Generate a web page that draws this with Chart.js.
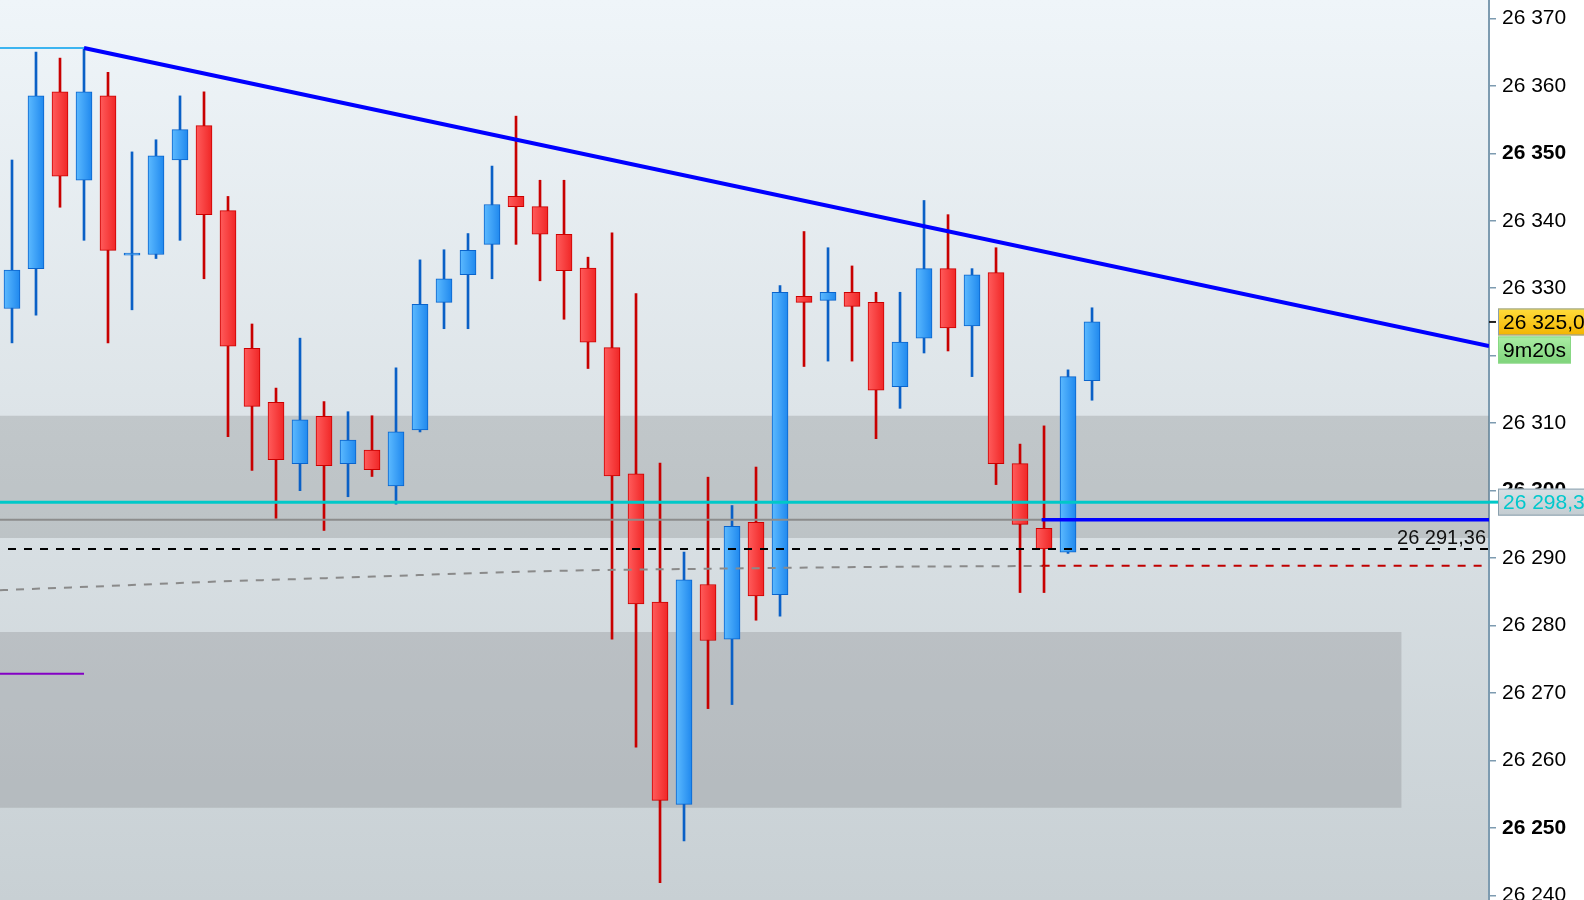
<!DOCTYPE html>
<html>
<head>
<meta charset="utf-8">
<title>Bougies</title>
<script src="https://cdn.jsdelivr.net/npm/chart.js@4.4.1/dist/chart.umd.min.js"></script>
<style>
  html, body { margin: 0; padding: 0; background: #fff; overflow: hidden; }
  canvas { display: block; }
</style>
</head>
<body>
<canvas id="chart" width="1584" height="900"></canvas>
<script>
// OHLC, one entry per candle
const opens = [26327.0, 26332.9, 26359.1, 26346.0, 26358.5, 26334.9, 26335.0, 26349.0, 26354.1, 26341.5,
  26321.1, 26313.1, 26304.0, 26311.0, 26304.0, 26306.0, 26300.7, 26309.0, 26327.9, 26332.0,
  26336.5, 26343.6, 26342.1, 26338.0, 26333.0, 26321.2, 26302.5, 26283.5, 26253.5, 26286.1,
  26278.0, 26295.3, 26284.6, 26328.8, 26328.2, 26329.4, 26327.9, 26315.4, 26322.6, 26332.9,
  26324.4, 26332.3, 26304.0, 26294.4, 26290.9, 26316.3];
const highs = [26349.0, 26365.0, 26364.1, 26365.6, 26362.0, 26350.2, 26352.0, 26358.5, 26359.1, 26343.6,
  26324.7, 26315.2, 26322.6, 26313.2, 26311.7, 26311.1, 26318.2, 26334.2, 26335.7, 26338.1,
  26348.1, 26355.5, 26346.0, 26346.0, 26334.6, 26338.2, 26329.2, 26304.1, 26290.9, 26302.0,
  26297.8, 26303.5, 26330.4, 26338.4, 26336.0, 26333.3, 26329.4, 26329.4, 26343.0, 26340.9,
  26332.9, 26336.0, 26306.9, 26309.6, 26317.9, 26327.1];
const lows = [26321.9, 26326.0, 26342.0, 26337.1, 26321.9, 26326.8, 26334.4, 26337.1, 26331.4, 26308.0,
  26303.0, 26295.9, 26300.0, 26294.1, 26299.1, 26302.1, 26298.0, 26308.7, 26324.0, 26324.0,
  26331.4, 26336.5, 26331.1, 26325.4, 26318.1, 26278.0, 26262.0, 26241.9, 26248.1, 26267.7,
  26268.3, 26280.8, 26281.4, 26318.4, 26319.2, 26319.2, 26307.7, 26312.2, 26320.4, 26320.7,
  26316.9, 26300.9, 26284.9, 26284.9, 26290.7, 26313.4];
const closes = [26332.7, 26358.5, 26346.6, 26359.1, 26335.6, 26335.0, 26349.6, 26353.5, 26340.9, 26321.4,
  26312.5, 26304.6, 26310.5, 26303.7, 26307.5, 26303.1, 26308.7, 26327.6, 26331.4, 26335.6,
  26342.4, 26342.1, 26338.0, 26332.6, 26322.0, 26302.2, 26283.2, 26254.1, 26286.8, 26277.8,
  26294.7, 26284.4, 26329.4, 26327.9, 26329.4, 26327.3, 26314.9, 26322.0, 26332.9, 26324.1,
  26332.0, 26304.0, 26295.0, 26291.36, 26316.9, 26325.0];

const yTicks = [26240, 26250, 26260, 26270, 26280, 26290, 26300, 26310, 26320, 26330, 26340, 26350, 26360, 26370];

// moving average (read at a few candles)
const maIndex = [-0.5, 0, 4, 8, 12, 16, 22, 31, 37, 43];
const maValues = [26285.23, 26285.32, 26285.87, 26286.46, 26286.91, 26287.38, 26288.06, 26288.51, 26288.73, 26288.84];

// levels
const trendIndex = [3, 61.54];
const trendValues = [26365.6, 26321.44];
const topLevel = 26365.6;
const purpleLevel = 26272.87;
const cyanLevel = 26298.3;
const grayLevel = 26295.7;
const dashedLevel = 26291.36;
const redLevel = 26288.88;
const zoneUpper = [26311.1, 26293.0];
const zoneLower = [26279.05, 26253.0];
const zoneLowerEnd = 57.9;
const levelStart = 42.9;
const timerText = '9m20s';

const X_MIN = -0.5, X_MAX = 61.54;
const FONT = '"Liberation Sans", Arial, Helvetica, sans-serif';

const isUp = (i) => closes[i] >= opens[i];
const fmt = (v) => {
    const s = String(Math.round(v));
    return s.slice(0, -3) + ' ' + s.slice(-3);
};
const fmtDec = (v, d) => {
    const parts = v.toFixed(d).split('.');
    return fmt(+parts[0]) + ',' + parts[1];
};

function bodyFill(c) {
    const up = isUp(c.dataIndex);
    const chart = c.chart;
    if (!chart.chartArea || !chart.scales.x) return up ? '#3aa6f8' : '#fa3c3c';
    const x = chart.scales.x.getPixelForValue(c.dataIndex);
    const g = chart.ctx.createLinearGradient(x - 8, 0, x + 8, 0);
    if (up) {
        g.addColorStop(0, '#5cbaff');
        g.addColorStop(1, '#1f88ee');
    } else {
        g.addColorStop(0, '#ff5c5c');
        g.addColorStop(1, '#f02626');
    }
    return g;
}

function hLine(y, from, to) {
    return [{ x: from, y: y }, { x: to, y: y }];
}

const backdrop = {
    id: 'backdrop',
    beforeDraw(chart) {
        const { ctx, chartArea: a } = chart;
        const g = ctx.createLinearGradient(0, a.top, 0, a.bottom);
        g.addColorStop(0, '#eff5f9');
        g.addColorStop(1, '#c8d0d4');
        ctx.save();
        ctx.fillStyle = g;
        ctx.fillRect(a.left, a.top, a.right - a.left, a.bottom - a.top);
        ctx.restore();
    },
};

function tag(ctx, x, yc, w, text, top, bottom, border, color) {
    const h = 27;
    const g = ctx.createLinearGradient(0, yc - h / 2, 0, yc + h / 2);
    g.addColorStop(0, top);
    g.addColorStop(1, bottom);
    ctx.fillStyle = g;
    ctx.fillRect(x, yc - h / 2, w, h);
    ctx.strokeStyle = border;
    ctx.lineWidth = 1;
    ctx.strokeRect(x + 0.5, yc - h / 2 + 0.5, w - 1, h - 1);
    ctx.fillStyle = color;
    ctx.font = '21px ' + FONT;
    ctx.textAlign = 'left';
    ctx.textBaseline = 'middle';
    ctx.fillText(text, x + 5, yc + 1);
}

const overlay = {
    id: 'overlay',
    afterDraw(chart) {
        const { ctx, chartArea: a } = chart;
        const y = chart.scales.y;
        const last = closes[closes.length - 1];
        const boxX = a.right + 9;
        ctx.save();

        // label over the dashed level
        ctx.fillStyle = '#111';
        ctx.font = '20px ' + FONT;
        ctx.textAlign = 'right';
        ctx.textBaseline = 'alphabetic';
        ctx.fillText(fmtDec(dashedLevel, 2), a.right - 3, y.getPixelForValue(dashedLevel) - 5);

        // cyan level runs out to its tag
        const yc = y.getPixelForValue(cyanLevel);
        ctx.strokeStyle = '#00c8c8';
        ctx.lineWidth = 3;
        ctx.beginPath();
        ctx.moveTo(a.right, yc);
        ctx.lineTo(boxX, yc);
        ctx.stroke();

        const yp = y.getPixelForValue(last);
        ctx.strokeStyle = '#222';
        ctx.lineWidth = 2;
        ctx.beginPath();
        ctx.moveTo(a.right, yp);
        ctx.lineTo(a.right + 7, yp);
        ctx.stroke();

        tag(ctx, boxX, yp, 120, fmtDec(last, 1), '#ffdc3c', '#f3b400', '#8aa0ae', '#000');
        tag(ctx, boxX, yp + 28, 73, timerText, '#aaeea4', '#7ed37a', '#88d884', '#000');
        tag(ctx, boxX, yc, 120, fmtDec(cyanLevel, 1), '#d9e0e4', '#c3ccd1', '#8aa0ae', '#00c8cc');
        ctx.restore();
    },
};

const lineBase = { type: 'line', pointRadius: 0, fill: false, tension: 0 };

new Chart(document.getElementById('chart'), {
    type: 'bar',
    data: {
        datasets: [
            Object.assign({}, lineBase, {
                label: 'zone haute',
                data: hLine(zoneUpper[0], X_MIN, X_MAX),
                fill: { value: zoneUpper[1] },
                backgroundColor: 'rgba(112,114,116,0.26)',
                borderWidth: 0,
                order: 20,
            }),
            Object.assign({}, lineBase, {
                label: 'zone basse',
                data: hLine(zoneLower[0], X_MIN, zoneLowerEnd),
                fill: { value: zoneLower[1] },
                backgroundColor: 'rgba(110,112,115,0.25)',
                borderWidth: 0,
                order: 20,
            }),
            {
                label: 'mèches',
                data: lows.map((l, i) => ({ x: i, y: [l, highs[i]] })),
                backgroundColor: (c) => (isUp(c.dataIndex) ? '#0a60c6' : '#c80000'),
                borderWidth: 0,
                barThickness: 2,
                grouped: false,
                order: 12,
            },
            {
                label: 'corps',
                data: opens.map((o, i) => ({ x: i, y: [o, closes[i]] })),
                backgroundColor: bodyFill,
                borderColor: (c) => (isUp(c.dataIndex) ? '#0a64cc' : '#cc0000'),
                borderWidth: 1,
                borderSkipped: false,
                barThickness: 16,
                minBarLength: 2,
                grouped: false,
                order: 11,
            },
            Object.assign({}, lineBase, {
                label: 'moyenne',
                data: maIndex.map((x, i) => ({ x: x, y: maValues[i] })),
                borderColor: '#8a8a8a',
                borderWidth: 2,
                borderDash: [8, 8],
                cubicInterpolationMode: 'monotone',
                order: 9,
            }),
            Object.assign({}, lineBase, {
                label: 'niveau',
                data: hLine(dashedLevel, X_MIN, X_MAX),
                borderColor: '#000',
                borderWidth: 2,
                borderDash: [8, 8],
                borderDashOffset: 8,
                order: 8,
            }),
            Object.assign({}, lineBase, {
                label: 'moyenne courante',
                data: hLine(redLevel, levelStart, 61.25),
                borderColor: '#c00000',
                borderWidth: 2,
                borderDash: [8, 8],
                order: 8,
            }),
            Object.assign({}, lineBase, {
                label: 'gris',
                data: hLine(grayLevel, X_MIN, X_MAX),
                borderColor: '#8c8c8c',
                borderWidth: 2,
                order: 7,
            }),
            Object.assign({}, lineBase, {
                label: 'support',
                data: hLine(grayLevel, levelStart, X_MAX),
                borderColor: '#0000ff',
                borderWidth: 3.5,
                order: 6,
            }),
            Object.assign({}, lineBase, {
                label: 'cyan',
                data: hLine(cyanLevel, X_MIN, X_MAX),
                borderColor: '#00c8c8',
                borderWidth: 3,
                order: 5,
            }),
            Object.assign({}, lineBase, {
                label: 'violet',
                data: hLine(purpleLevel, X_MIN, trendIndex[0]),
                borderColor: '#8400c4',
                borderWidth: 2,
                order: 5,
            }),
            Object.assign({}, lineBase, {
                label: 'plus haut',
                data: hLine(topLevel, X_MIN, trendIndex[0]),
                borderColor: '#3cb4f0',
                borderWidth: 2,
                order: 5,
            }),
            Object.assign({}, lineBase, {
                label: 'oblique',
                data: trendIndex.map((x, i) => ({ x: x, y: trendValues[i] })),
                borderColor: '#0000ff',
                borderWidth: 4,
                order: 4,
            }),
        ],
    },
    options: {
        responsive: false,
        animation: false,
        devicePixelRatio: 1,
        layout: { padding: 0 },
        plugins: {
            legend: { display: false },
            tooltip: { enabled: false },
        },
        scales: {
            x: {
                type: 'linear',
                min: X_MIN,
                max: X_MAX,
                offset: false,
                display: false,
            },
            y: {
                position: 'right',
                min: 26239.34,
                max: 26372.71,
                afterBuildTicks: (scale) => {
                    scale.ticks = yTicks.map((v) => ({ value: v }));
                },
                afterFit: (scale) => {
                    scale.width = 95;
                    scale.paddingTop = 0;
                    scale.paddingBottom = 0;
                },
                border: { display: true, color: '#7d9bb0', width: 2 },
                grid: {
                    drawOnChartArea: false,
                    drawTicks: true,
                    tickLength: 7,
                    color: '#7d9bb0',
                    lineWidth: 1.5,
                },
                ticks: {
                    padding: 6,
                    color: '#000',
                    callback: (v) => fmt(v),
                    font: (c) => ({
                        family: FONT,
                        size: 21,
                        weight: c.tick && c.tick.value % 50 === 0 ? 'bold' : 'normal',
                    }),
                },
            },
        },
    },
    plugins: [backdrop, overlay],
});
</script>
</body>
</html>
